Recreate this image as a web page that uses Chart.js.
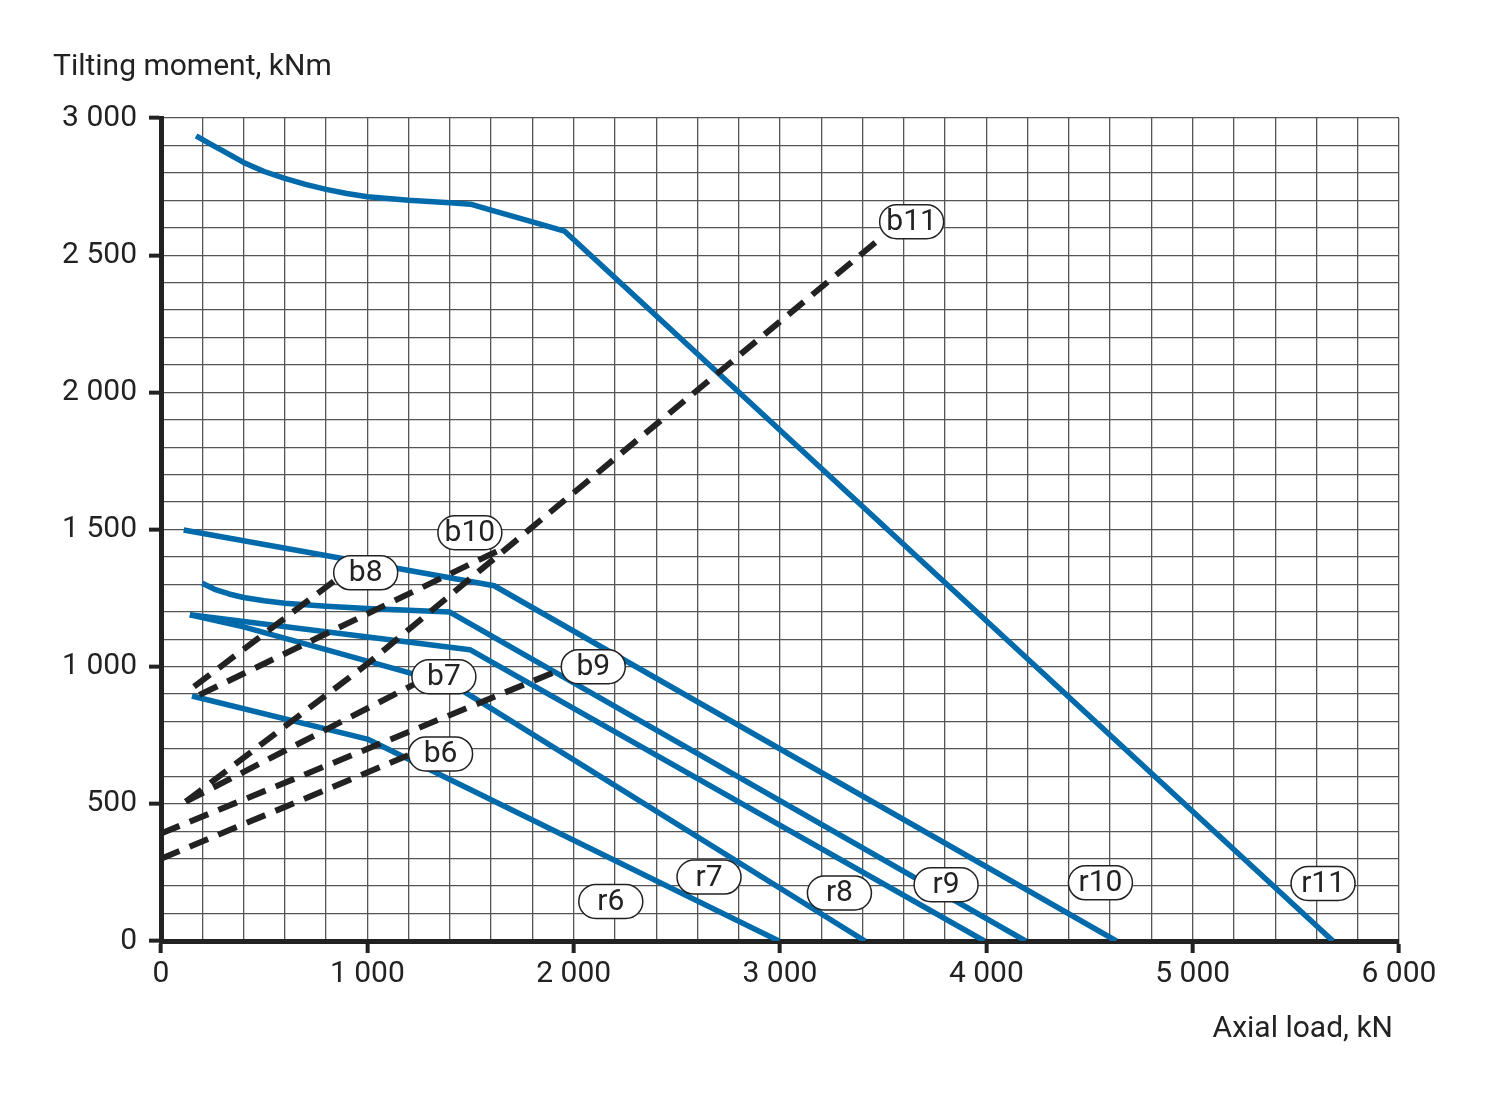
<!DOCTYPE html>
<html>
<head>
<meta charset="utf-8">
<script src="https://cdn.jsdelivr.net/npm/chart.js@4/dist/chart.umd.min.js"></script>
<style>
  html, body { margin: 0; padding: 0; background: #fff; }
  #wrap { width: 1487px; height: 1094px; position: relative; }
</style>
</head>
<body>
<div id="wrap"><canvas id="chart"></canvas></div>
<script>
// Bearing capacity curves [axial load kN, tilting moment kNm]
const r6 = [[150, 893], [1000, 736], [2995, 0]];
const r7 = [[140, 1189], [400, 1145], [800, 1062], [1200, 978], [1420, 932], [3412, 0]];
const r8 = [[140, 1189], [1497, 1062], [3990, 0]];
const r9 = [[200, 1304], [260, 1282], [330, 1265], [400, 1252], [500, 1240], [600, 1231],
            [800, 1220], [1000, 1212], [1200, 1206], [1400, 1199], [4190, 0]];
const r10 = [[110, 1498], [1615, 1295], [4630, 0]];
const r11 = [[170, 2935], [240, 2905], [300, 2880], [400, 2838], [500, 2805], [600, 2780],
             [700, 2758], [800, 2740], [900, 2725], [1000, 2713], [1200, 2700], [1400, 2691],
             [1500, 2686], [1600, 2664], [1800, 2621], [1955, 2588], [5680, 0]];

// Bolt curves (dashed)
const b6 = [[0, 300], [1215, 682]];
const b7 = [[120, 508], [1238, 940]];
const b8 = [[160, 927], [849, 1318]];
const b9 = [[0, 392], [1940, 990]];
const b10 = [[186, 897], [1640, 1425]];
const b11 = [[120, 508], [1000, 1010], [3500, 2570]];

// Curve tags
const tagNames = ['b6', 'b7', 'b8', 'b9', 'b10', 'b11', 'r6', 'r7', 'r8', 'r9', 'r10', 'r11'];
const tagX = [1355, 1371, 992, 2095, 1497, 3638, 2180, 2656, 3288, 3805, 4553, 5632];
const tagY = [682, 963, 1342, 1000, 1488, 2622, 144, 233, 175, 205, 212, 210];

const xTitle = 'Axial load, kN';
const yTitle = 'Tilting moment, kNm';

const FONT = 'Roboto, "Open Sans", sans-serif';
const INK = '#222222';
const BLUE = '#006aab';

const fmt = v => String(v).replace(/\B(?=(\d{3})+(?!\d))/g, ' ');
const pts = arr => arr.map(([x, y]) => ({ x, y }));

const solid = data => ({
    data: pts(data), showLine: true, borderColor: BLUE, borderWidth: 5.5,
    borderJoinStyle: 'round', pointRadius: 0, tension: 0, order: 1
});
const dashed = data => ({
    data: pts(data), showLine: true, borderColor: INK, borderWidth: 6,
    borderDash: [20, 11], pointRadius: 0, tension: 0, order: 0
});

// tags and axis titles
const tagPlugin = {
    id: 'tags',
    afterDatasetsDraw(chart) {
        const { ctx, scales: { x, y } } = chart;
        ctx.save();
        ctx.font = '30px ' + FONT;
        ctx.textAlign = 'center';
        ctx.textBaseline = 'middle';
        const w = 64, h = 34, r = 17;
        tagNames.forEach((name, i) => {
            const cx = x.getPixelForValue(tagX[i]);
            const cy = y.getPixelForValue(tagY[i]);
            ctx.beginPath();
            ctx.roundRect(cx - w / 2, cy - h / 2, w, h, r);
            ctx.fillStyle = '#fff';
            ctx.fill();
            ctx.lineWidth = 1.5;
            ctx.strokeStyle = INK;
            ctx.stroke();
            ctx.fillStyle = INK;
            ctx.fillText(name, cx, cy + 1);
        });
        ctx.restore();
    },
    afterDraw(chart) {
        const { ctx } = chart;
        ctx.save();
        ctx.font = '30px ' + FONT;
        ctx.fillStyle = INK;
        ctx.textBaseline = 'alphabetic';
        ctx.textAlign = 'left';
        ctx.fillText(yTitle, 53, 75);
        ctx.textAlign = 'right';
        ctx.fillText(xTitle, 1393, 1037);
        ctx.restore();
    }
};

new Chart(document.getElementById('chart'), {
    type: 'scatter',
    data: {
        datasets: [
            dashed(b6), dashed(b7), dashed(b8), dashed(b9), dashed(b10), dashed(b11),
            solid(r6), solid(r7), solid(r8), solid(r9), solid(r10), solid(r11)
        ]
    },
    options: {
        responsive: true,
        maintainAspectRatio: false,
        animation: false,
        layout: { padding: { top: 118, right: 88, left: 0, bottom: 0 } },
        plugins: { legend: { display: false }, tooltip: { enabled: false } },
        scales: {
            x: {
                type: 'linear', min: 0, max: 6000,
                afterFit: s => { s.height = 153; },
                border: { display: true, color: INK, width: 5 },
                grid: {
                    color: '#555555', lineWidth: 1.3, tickLength: 12,
                    tickColor: c => (c.tick && c.tick.value % 1000 === 0) ? INK : 'rgba(0,0,0,0)',
                    tickWidth: c => (c.tick && c.tick.value % 1000 === 0) ? 4 : 0
                },
                ticks: {
                    stepSize: 200, autoSkip: false, maxRotation: 0, padding: 3,
                    color: INK, font: { family: FONT, size: 30 },
                    callback: v => v % 1000 === 0 ? fmt(v) : ''
                }
            },
            y: {
                type: 'linear', min: 0, max: 3000,
                afterFit: s => { s.width = 161; },
                border: { display: true, color: INK, width: 5 },
                grid: {
                    color: '#555555', lineWidth: 1.3, tickLength: 12,
                    tickColor: c => (c.tick && c.tick.value % 500 === 0) ? INK : 'rgba(0,0,0,0)',
                    tickWidth: c => (c.tick && c.tick.value % 500 === 0) ? 4 : 0
                },
                ticks: {
                    stepSize: 100, autoSkip: false, padding: 12,
                    color: INK, font: { family: FONT, size: 30 },
                    callback: v => v % 500 === 0 ? fmt(v) : ''
                }
            }
        }
    },
    plugins: [tagPlugin]
});
</script>
</body>
</html>
